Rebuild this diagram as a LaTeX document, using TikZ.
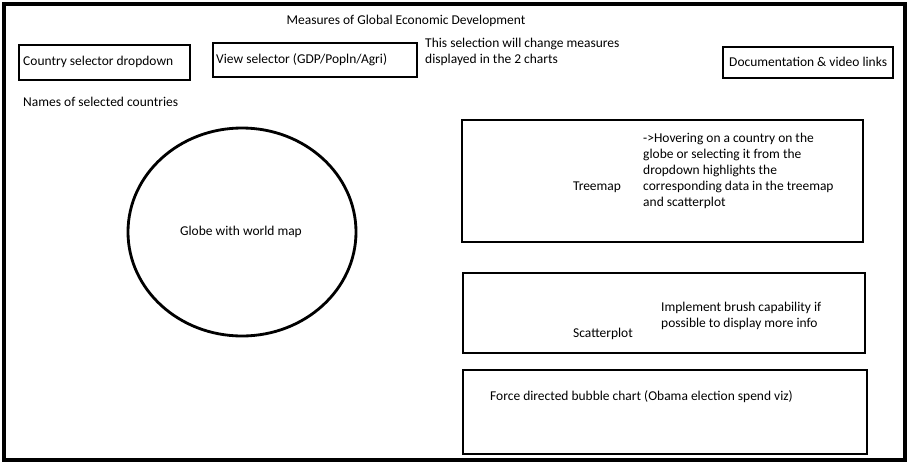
\documentclass[tikz,border=0pt]{standalone}
\usepackage{fontspec}
\setmainfont{Carlito}
\begin{document}
\begin{tikzpicture}[x=0.03cm, y=-0.03cm,
        every node/.style={font=\fontsize{11.5}{13.8}\selectfont, inner sep=0pt},
        box/.style={line width=2.4pt},
        label/.style={anchor=west, align=left}]
        \useasboundingbox (0, 0) rectangle (911, 466);

        % Draw outer frame
        \draw[box, line width=2.8pt] (4, 4) rectangle (905, 460);

        % Draw top row
        \node (title) at (406, 21) {Measures of Global Economic Development};
        \draw[box] (19, 45) rectangle (190, 80);
        \node[label] (country) at (23, 62) {Country selector dropdown};
        \draw[box] (213, 43) rectangle (417, 77);
        \node[label] (view) at (216, 60) {View selector (GDP/Popln/Agri)};
        \node[label] (viewnote) at (425, 52) {This selection will change measures\\displayed in the 2 charts};
        \draw[box] (723, 47) rectangle (893, 78);
        \node[label] (docs) at (729, 62) {Documentation \& video links};
        \node[label] (names) at (23, 102) {Names of selected countries};

        % Draw globe
        \draw[box] (242, 232) ellipse (114 and 104);
        \node (globe) at (241, 232) {Globe with world map};

        % Draw chart panels
        \draw[box] (462, 120) rectangle (863, 242);
        \node (treemap) at (597, 187) {Treemap};
        \node[label] (treenote) at (643, 171) {->Hovering on a country on the\\globe or selecting it from the\\dropdown highlights the\\corresponding data in the treemap\\and scatterplot};
        \draw[box] (463, 273) rectangle (865, 353);
        \node (scatter) at (603, 334) {Scatterplot};
        \node[label] (scatternote) at (661, 316) {Implement brush capability if\\possible to display more info};
        \draw[box] (463, 370) rectangle (867, 454);
        \node[label] (bubble) at (490, 397) {Force directed bubble chart (Obama election spend viz)};
    \end{tikzpicture}
\end{document}
